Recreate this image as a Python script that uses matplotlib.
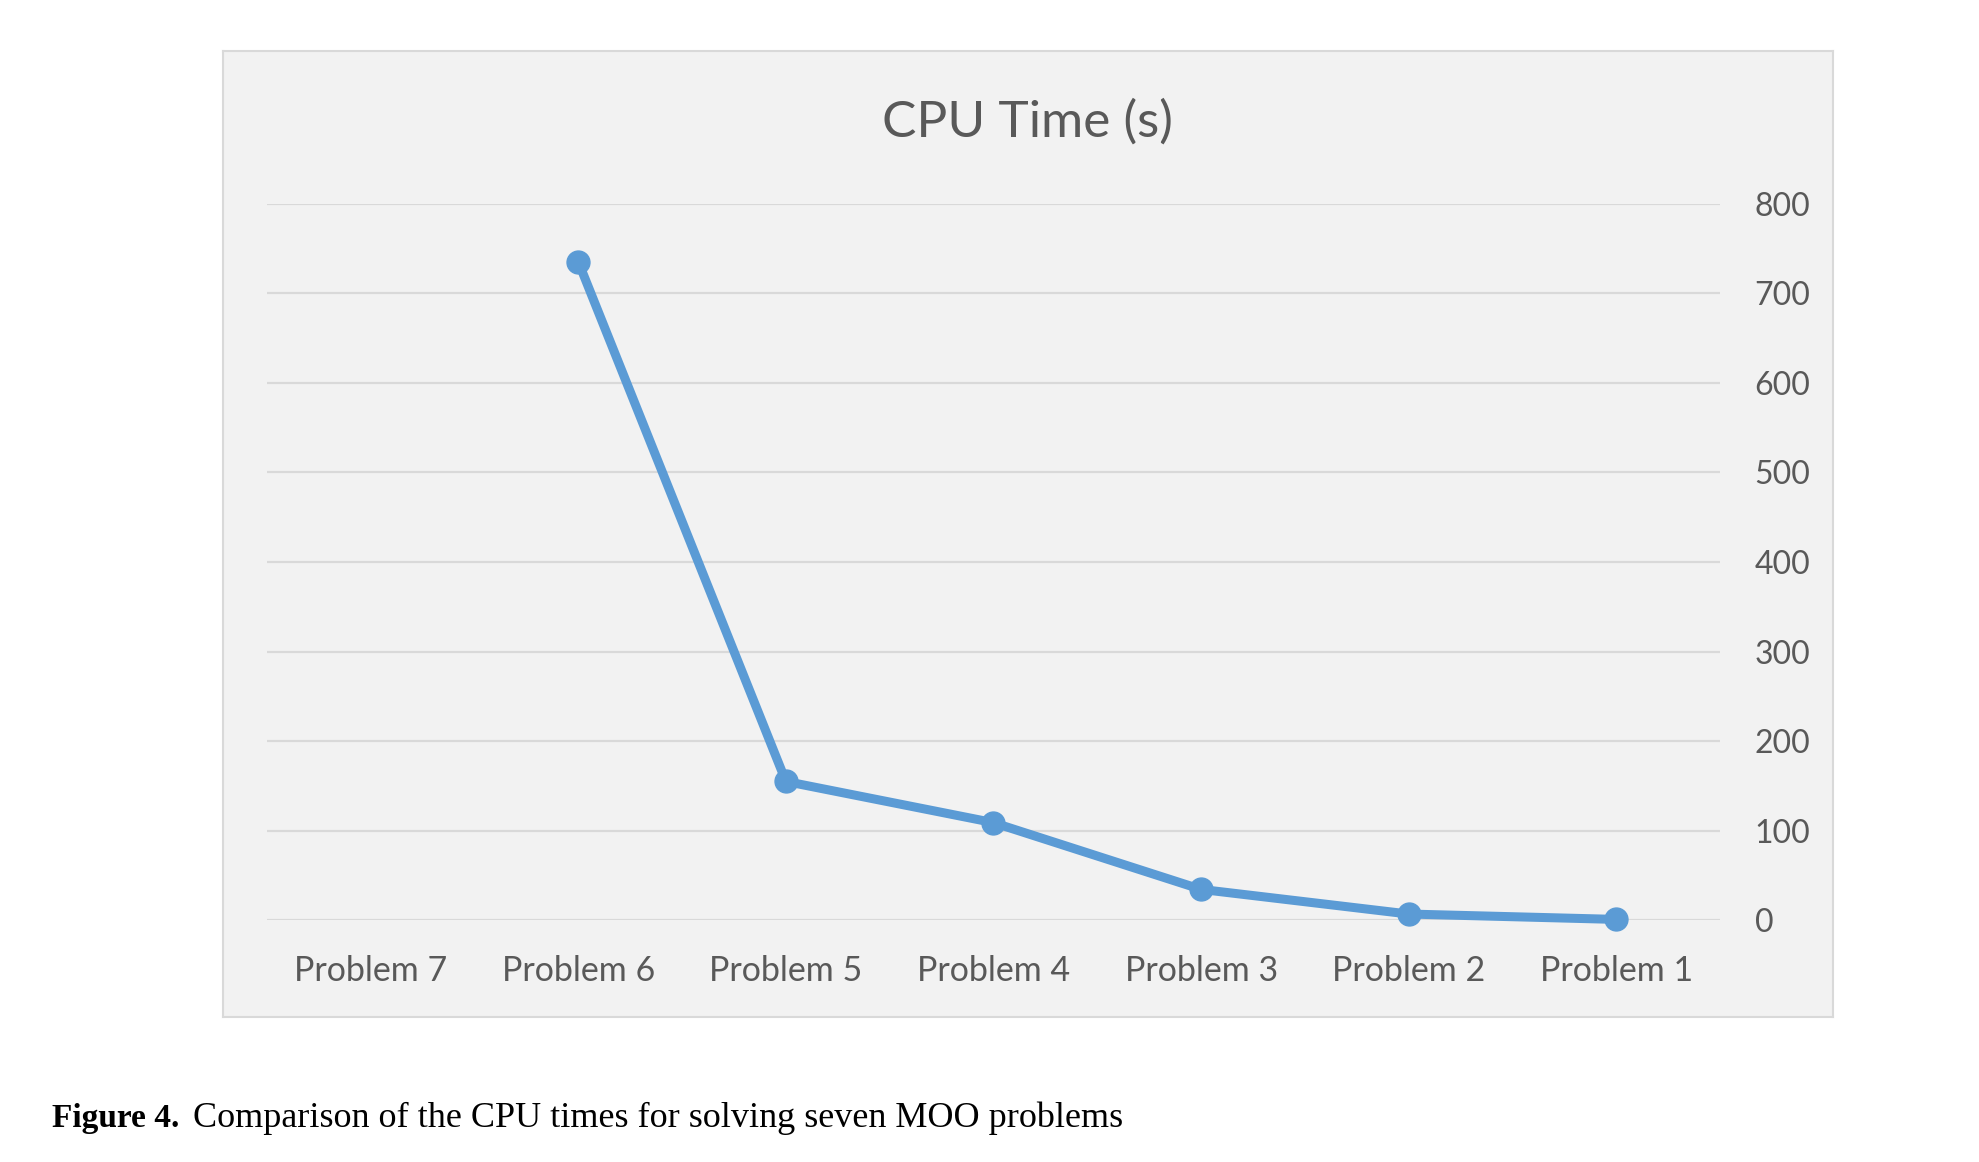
import numpy as np
import matplotlib
matplotlib.use("Agg")
import matplotlib.pyplot as plt

# ---- data ----
categories = ["Problem 7", "Problem 6", "Problem 5", "Problem 4", "Problem 3", "Problem 2", "Problem 1"]
cpu_time = [np.nan, 735, 155, 109, 34.5, 7, 1]
y_ticks = [0, 100, 200, 300, 400, 500, 600, 700, 800]
title_text = "CPU Time (s)"
caption_bold = "Figure 4."
caption_text = "Comparison of the CPU times for solving seven MOO problems"

W, H = 1979, 1162
fig = plt.figure(figsize=(W / 100, H / 100), dpi=100)
fig.patch.set_facecolor("white")

# chart area box
bg = fig.add_axes([223 / W, 1 - 1017 / H, (1833 - 223) / W, (1017 - 51) / H], zorder=-5)
bg.set_xticks([])
bg.set_yticks([])
bg.set_facecolor("#F2F2F2")
for s in bg.spines.values():
    s.set_color("#D9D9D9")
    s.set_linewidth(1.5)

ax = fig.add_axes([267 / W, 1 - 920.3 / H, (1720 - 267) / W, (920.3 - 203.7) / H], zorder=1)
ax.set_facecolor("none")
x = np.arange(len(categories))
ax.plot(x, cpu_time, color="#5B9BD5", linewidth=6.5, marker="o", markersize=16.5,
        solid_capstyle="round", solid_joinstyle="round", zorder=3, clip_on=False)
ax.set_xlim(-0.5, len(categories) - 0.5)
ax.set_ylim(0, 800)
ax.set_yticks(y_ticks)
ax.set_xticks(x)
ax.set_xticklabels(categories)
ax.yaxis.tick_right()
for s in ax.spines.values():
    s.set_visible(False)
ax.grid(axis="y", color="#D9D9D9", linewidth=1.6, zorder=0)
ax.set_axisbelow(True)
ax.tick_params(axis="both", length=0, colors="#595959")
ax.tick_params(axis="y", pad=25, labelsize=23)
ax.tick_params(axis="x", pad=25, labelsize=24.5)
for lab in ax.get_xticklabels() + ax.get_yticklabels():
    lab.set_fontfamily("Lato")
    lab.set_color("#595959")

fig.text(1028 / W, 1 - 136.7 / H, title_text, ha="center", va="baseline",
         fontsize=37, color="#595959", family="Lato")

# caption
t1 = fig.text(52 / W, 1 - 1126.7 / H, caption_bold, ha="left", va="baseline",
              fontsize=24, fontweight="bold", family="Liberation Serif", color="black")
fig.canvas.draw()
bb = t1.get_window_extent()
fig.text((bb.x1 + 14) / W, 1 - 1126.7 / H, caption_text, ha="left", va="baseline",
         fontsize=26, family="Liberation Serif", color="black")

fig.savefig("out.png", dpi=100, facecolor="white")
